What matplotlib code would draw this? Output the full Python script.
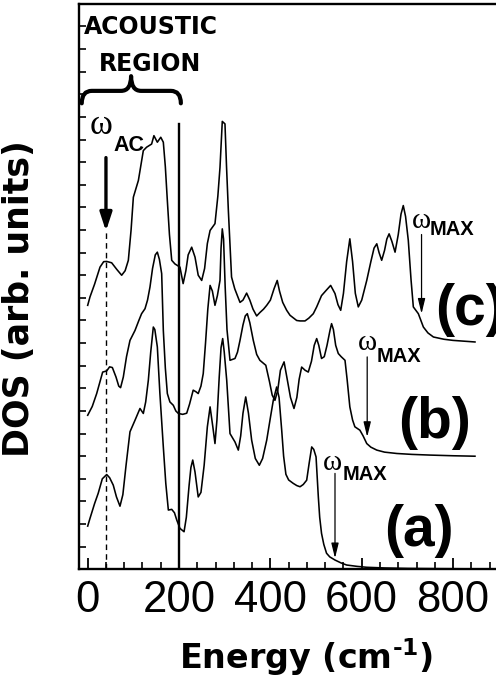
"""
Phonon DOS for three samples, offset vertically, with acoustic region marker.
"""

import matplotlib
matplotlib.use("Agg")
import matplotlib.pyplot as plt
from matplotlib.path import Path
from matplotlib.patches import PathPatch
from matplotlib.ticker import MultipleLocator

# -----------------------------
# DATA (energy in cm^-1, DOS in arb. units incl. offset)
# -----------------------------
energy_a = [0, 5, 15, 23, 32, 41.6, 48, 56, 63, 70.7, 77, 84, 92.6, 103.6, 114.5,
            121.8, 127, 132.8, 138, 143.7, 147, 152.5, 158, 165.6, 171, 176.6, 184,
            190, 195, 202, 211, 216, 222, 226, 230, 235, 242, 248, 255, 262, 268,
            274, 278.7, 283, 288, 292, 295.6, 299, 304.4, 311.6, 322.5, 329.8, 335,
            340, 346, 352, 359, 367, 375.8, 383, 392, 400, 406.4, 413.8, 419, 424.8,
            429, 434, 440, 450, 458, 465, 472, 479.5, 485, 490.5, 495, 500, 505, 508,
            512, 517, 523, 530, 541.5, 555, 567, 590, 611, 650, 700, 760, 850]
dos_a = [1.91, 2.25, 2.9, 3.36, 4.0, 4.19, 4.05, 3.72, 3.2, 2.79, 3.3, 4.6, 6.08, 6.59,
         7.11, 6.89, 7.4, 8.36, 9.6, 10.71, 10.6, 9.83, 7.8, 5.41, 3.8, 2.62, 2.65,
         2.5, 2.18, 1.81, 1.66, 2.3, 3.7, 4.5, 4.83, 4.3, 3.2, 3.4, 4.6, 6.3, 7.18,
         6.3, 5.56, 6.6, 8.5, 9.8, 10.2, 9.6, 8.36, 6.0, 5.63, 5.27, 5.9, 6.9, 7.62,
         6.9, 5.71, 4.9, 4.6, 4.9, 5.71, 6.7, 7.47, 8.06, 7.6, 6.15, 5.0, 4.2, 3.95,
         3.8, 3.7, 3.65, 3.75, 3.94, 4.7, 5.41, 5.3, 4.97, 3.2, 2.3, 1.59, 1.1, 0.71,
         0.55, 0.41, 0.28, 0.19, 0.13, 0.09, 0.06, 0.04, 0.03, 0.02]

energy_b = [0, 10, 19.7, 27, 32.8, 41.6, 48, 54, 62, 68, 72, 78, 85, 92.6, 103.6, 112,
            118, 125.5, 131, 136.4, 142, 148, 152.5, 157, 162, 165.6, 170, 174.4, 180,
            187.5, 193, 198.5, 208, 216.8, 223, 231, 237, 242, 248, 253, 258, 263, 268,
            273, 278.7, 284, 289.7, 292, 294.7, 297.5, 301, 305, 311.6, 322.5, 328,
            333.5, 340, 345, 349.5, 355, 362.6, 370, 377, 390, 398, 404, 410, 416, 422,
            430, 436, 444, 451.7, 458, 463, 468.5, 476, 483, 490, 496, 501.4, 506, 512,
            518, 524, 530.5, 534, 538, 543, 548.7, 555, 563.4, 568, 574, 580, 585, 596,
            603, 611, 620, 633, 650, 677, 710, 749.5, 800, 848]
dos_b = [6.81, 7.2, 7.77, 8.3, 8.72, 8.77, 8.95, 8.92, 8.5, 8.1, 8.03, 8.5, 9.4, 10.12,
         10.56, 11.0, 11.3, 11.52, 11.9, 12.48, 13.3, 13.9, 14.02, 13.7, 13.07, 10.56,
         8.9, 7.77, 7.4, 7.25, 7.0, 6.89, 6.85, 6.9, 7.3, 7.92, 7.85, 7.77, 8.1, 8.65,
         10.0, 11.5, 12.55, 12.3, 11.67, 12.1, 12.77, 14.2, 15.05, 14.6, 12.5, 10.6,
         9.24, 9.32, 9.6, 10.12, 10.8, 11.2, 11.3, 10.9, 10.12, 9.5, 9.24, 9.02, 8.3,
         7.7, 7.47, 7.9, 8.8, 9.17, 8.5, 7.6, 7.11, 7.6, 8.4, 8.94, 8.8, 8.72, 9.2,
         9.9, 10.2, 9.9, 9.32, 9.4, 9.9, 10.56, 10.86, 10.6, 9.9, 9.54, 9.4, 9.24,
         8.4, 7.18, 6.6, 6.3, 6.15, 5.9, 5.56, 5.4, 5.27, 5.18, 5.12, 5.08, 5.05,
         5.02, 5.0]

energy_c = [0, 5, 15, 27, 35, 41.6, 52.5, 64, 74.4, 82, 89, 95, 100, 111, 121.8, 129,
            140, 145, 152.5, 160, 165.6, 170, 174.4, 179, 184, 191, 202, 209, 215, 220,
            227.7, 235, 242, 249.6, 256, 262, 268, 278.7, 285, 289.7, 294.7, 300.6, 304,
            308, 315, 322, 333.5, 340, 348, 355, 362, 370, 377, 385, 392, 400, 408, 415,
            420, 427, 435.7, 443, 457.6, 465, 475.8, 484, 494, 501.4, 512, 523, 532,
            541.5, 548, 554, 560, 567, 574, 580, 586, 592.5, 600, 611, 620, 627, 633,
            638, 643.7, 650, 655, 660, 666, 673, 680, 686, 691, 696, 702, 708, 713, 724,
            735, 745, 757, 780, 800, 848]
dos_c = [11.67, 12.04, 12.6, 13.36, 13.6, 13.61, 13.55, 13.25, 13.0, 13.2, 13.66, 15.0,
         16.45, 17.19, 18.51, 18.66, 18.8, 19.17, 18.88, 19.1, 18.88, 17.8, 16.3, 14.8,
         13.66, 13.5, 13.36, 12.63, 13.2, 13.9, 14.24, 13.8, 13.0, 12.77, 13.3, 14.4,
         14.98, 15.28, 16.5, 17.77, 19.8, 19.69, 17.8, 15.86, 12.92, 12.4, 11.8, 11.9,
         12.21, 11.9, 11.5, 11.2, 11.35, 11.5, 11.67, 11.9, 12.4, 12.77, 12.3, 11.8,
         11.45, 11.23, 11.0, 10.98, 10.98, 11.1, 11.3, 11.6, 12.1, 12.35, 12.55, 12.19,
         11.7, 11.45, 12.2, 13.6, 14.61, 13.6, 12.2, 11.6, 11.9, 12.77, 13.6, 14.2,
         14.39, 14.0, 13.66, 14.1, 14.6, 14.83, 14.5, 14.02, 14.8, 15.7, 16.08, 15.6,
         14.54, 12.8, 11.6, 11.3, 10.71, 10.45, 10.27, 10.17, 10.12, 10.05]

# annotations
OMEGA_AC = 40            # dashed line / arrow position
ACOUSTIC_EDGE = 200      # solid vertical line
ACOUSTIC_EDGE_TOP = 19.7
OMEGA_MAX = {"a": 541.5, "b": 612, "c": 731}
OMEGA_MAX_ARROW = {"a": (4.24, 0.49), "b": (9.39, 5.85), "c": (14.8, 11.3)}
OMEGA_MAX_LABEL = {"a": (535, 4.38, 559, 3.94),
                   "b": (611.6, 9.68, 633.5, 9.15),
                   "c": (731, 15.11, 749.5, 14.76)}
PANEL_LABEL = {"a": (650, 1.03), "b": (679, 5.79), "c": (760, 10.78)}

SANS = "Liberation Sans"
SERIF = "Liberation Serif"

# -----------------------------
# FIGURE
# -----------------------------
fig = plt.figure(figsize=(4.96, 6.87), dpi=100)
ax = fig.add_axes([0.1593, 0.1713, 0.8462, 0.8232])

for e, d in [(energy_a, dos_a), (energy_b, dos_b), (energy_c, dos_c)]:
    ax.plot(e, d, color="black", lw=1.15)

ax.set_xlim(-19, 900)
ax.set_ylim(0, 25)

# vertical markers
ax.plot([ACOUSTIC_EDGE, ACOUSTIC_EDGE], [0, ACOUSTIC_EDGE_TOP], color="black", lw=1.7)
ax.plot([OMEGA_AC, OMEGA_AC], [0, 14.9], color="black", lw=1.0, ls=(0, (4, 3)))

# omega_AC arrow + label
ax.annotate("", xy=(OMEGA_AC, 14.95), xytext=(OMEGA_AC, 18.2),
            arrowprops=dict(arrowstyle="-|>,head_length=1.1,head_width=0.36",
                            color="black", lw=2.4, mutation_scale=10,
                            shrinkA=0, shrinkB=0))
ax.text(28.7, 19.25, "ω", fontsize=25, family=SERIF, ha="center", va="baseline")
ax.text(56, 18.51, "AC", fontsize=15.5, family=SANS, weight="bold",
        ha="left", va="baseline")

# acoustic region brace
bx0, bx1, bxc, hx = -13, 204, 95, 22
ye, ym, yt = 20.6, 21.15, 21.8
verts = [(bx0, ye), (bx0, ym), (bx0 + hx, ym), (bxc - hx, ym),
         (bxc, ym), (bxc, yt), (bxc, ym), (bxc + hx, ym),
         (bx1 - hx, ym), (bx1, ym), (bx1, ye)]
codes = [Path.MOVETO, Path.CURVE3, Path.CURVE3, Path.LINETO,
         Path.CURVE3, Path.CURVE3, Path.CURVE3, Path.CURVE3,
         Path.LINETO, Path.CURVE3, Path.CURVE3]
ax.add_patch(PathPatch(Path(verts, codes), fill=False, lw=3.0,
                       capstyle="round", joinstyle="round", clip_on=False))
ax.text(137.5, 23.66, "ACOUSTIC", fontsize=17, family="DejaVu Sans",
        weight="bold", ha="center", va="baseline")
ax.text(137.5, 22.04, "REGION", fontsize=17, family="DejaVu Sans",
        weight="bold", ha="center", va="baseline")

# omega_MAX arrows + labels
for key in ["a", "b", "c"]:
    top, tip = OMEGA_MAX_ARROW[key]
    ax.annotate("", xy=(OMEGA_MAX[key], tip), xytext=(OMEGA_MAX[key], top),
                arrowprops=dict(arrowstyle="-|>,head_length=0.9,head_width=0.22",
                                color="black", lw=0.9, mutation_scale=10,
                                shrinkA=0, shrinkB=0))
    wx, wy, mx, my = OMEGA_MAX_LABEL[key]
    ax.text(wx, wy, "ω", fontsize=21, family=SERIF, ha="center", va="baseline")
    ax.text(mx, my, "MAX", fontsize=14.5, family=SANS, weight="bold",
            ha="left", va="baseline")
    px, py = PANEL_LABEL[key]
    ax.text(px, py, f"({key})", fontsize=41, family=SANS, weight="bold",
            ha="left", va="baseline", clip_on=False)

# -----------------------------
# AXES STYLE
# -----------------------------
ax.set_xticks(range(0, 900, 200))
ax.xaxis.set_minor_locator(MultipleLocator(40))
ax.set_yticks(range(0, 25))
ax.tick_params(axis="x", which="major", direction="in", length=8, width=1.3,
               pad=8, labelsize=31.5, top=False)
ax.tick_params(axis="x", which="minor", direction="in", length=5, width=1.2, top=False)
ax.tick_params(axis="y", direction="in", length=5, width=1.2,
               labelleft=False, right=False)
for lab in ax.get_xticklabels():
    lab.set_family(SANS)
for side in ["left", "bottom", "top"]:
    ax.spines[side].set_linewidth(1.7)
ax.spines["right"].set_visible(False)

fig.text(306.5 / 496, 1 - 657 / 687, "Energy (cm$^{\\mathbf{\u20101}}$)", fontsize=24,
         family="DejaVu Sans", weight="bold", ha="center", va="center")
fig.text(19 / 496, 1 - 298.5 / 687, "DOS (arb. units)", fontsize=25,
         family="DejaVu Sans", weight="bold", rotation=90, ha="center", va="center")

fig.savefig("out.png", dpi=100)
